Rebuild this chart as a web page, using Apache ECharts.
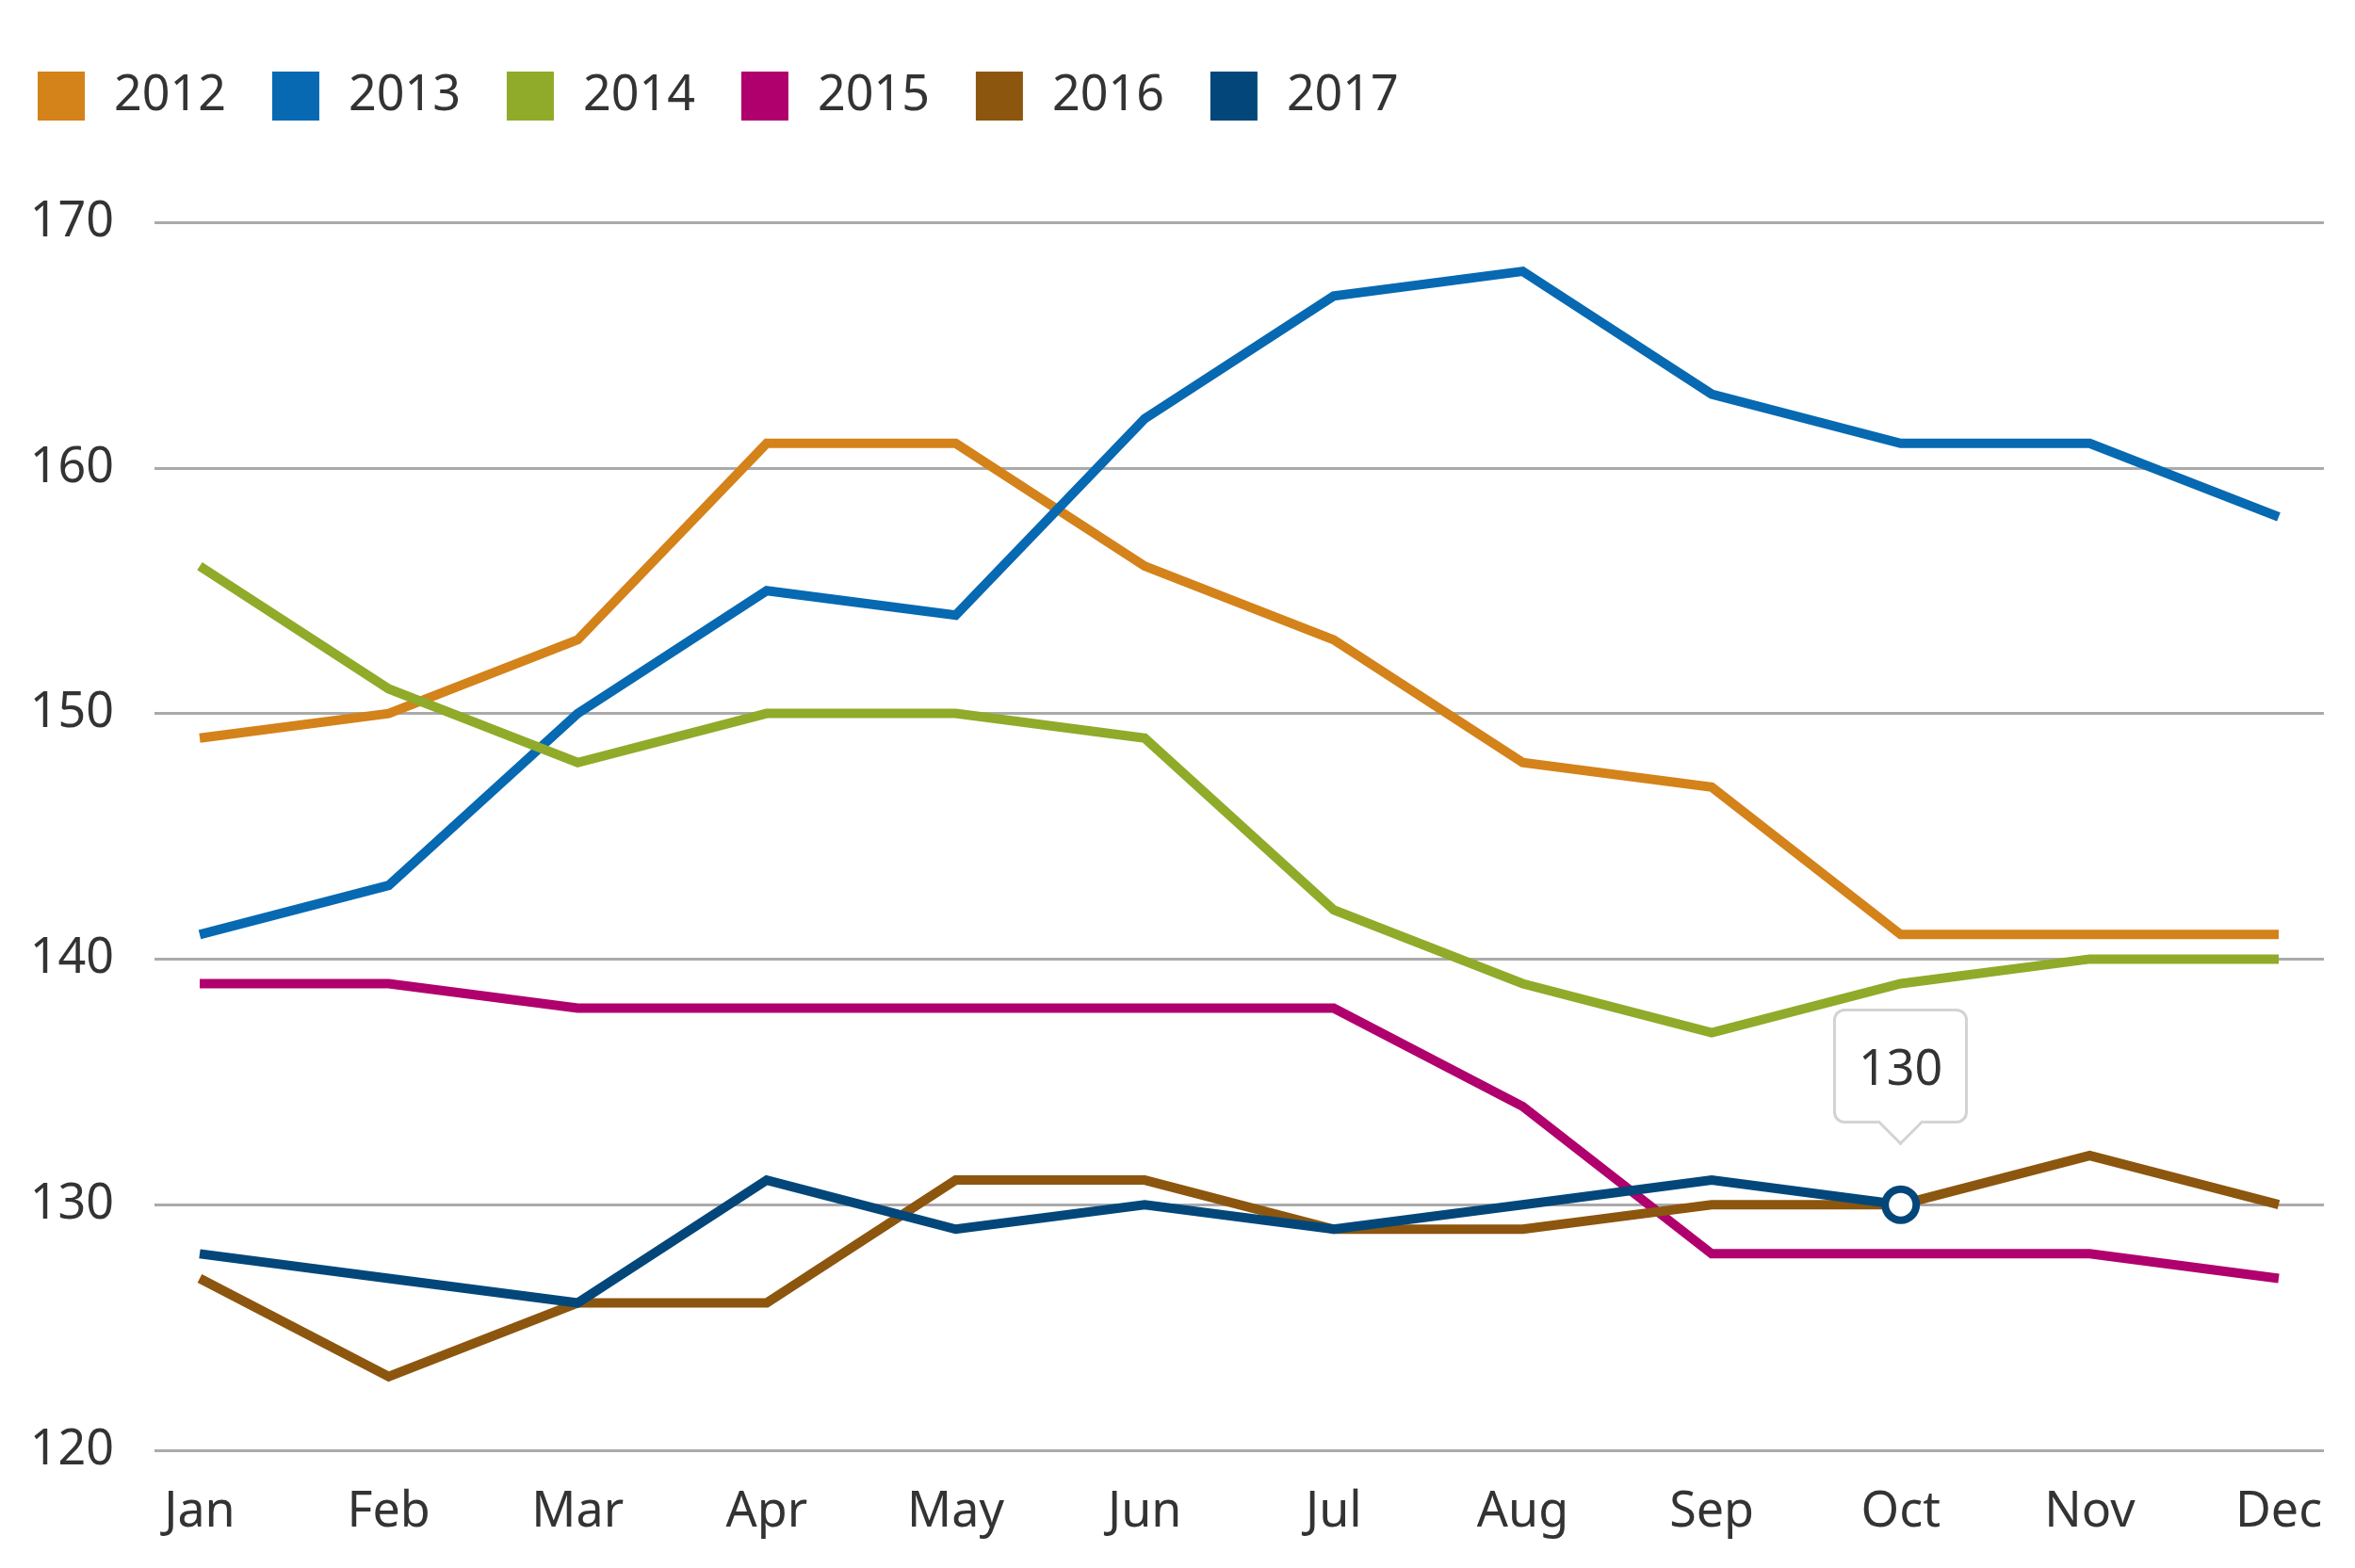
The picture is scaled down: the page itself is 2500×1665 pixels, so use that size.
<!DOCTYPE html>
<html>
<head>
<meta charset="utf-8">
<script src="https://cdn.jsdelivr.net/npm/echarts@6/dist/echarts.min.js"></script>
<style>
html,body{margin:0;padding:0;background:#fff;}
#chart{width:2500px;height:1665px;}
</style>
</head>
<body>
<div id="chart"></div>
<script>
const months = ['Jan','Feb','Mar','Apr','May','Jun','Jul','Aug','Sep','Oct','Nov','Dec'];
const yearNames = ['2012','2013','2014','2015','2016','2017'];
const v2012 = [149,150,153,161,161,156,153,148,147,141,141,141];
const v2013 = [141,143,150,155,154,162,167,168,163,161,161,158];
const v2014 = [156,151,148,150,150,149,142,139,137,139,140,140];
const v2015 = [139,139,138,138,138,138,138,134,128,128,128,127];
const v2016 = [127,123,126,126,131,131,129,129,130,130,132,130];
const v2017 = [128,127,126,131,129,130,129,130,131,130,null,null];
const yTicks = [120,130,140,150,160,170];
const colors = ['#D4821A','#0669B2','#8FAB29','#B0006D','#8C560F','#03477A'];
const highlightIndex = 9; // Oct point of 2017 shown with tooltip

const allValues = [v2012,v2013,v2014,v2015,v2016,v2017];
const FONT = '"Noto Sans", sans-serif';

const chart = echarts.init(document.getElementById('chart'));

const series = allValues.map((vals, i) => ({
  name: yearNames[i],
  type: 'line',
  xAxisIndex: 1,
  yAxisIndex: 1,
  symbol: 'none',
  lineStyle: { width: 10, color: colors[i], cap: 'butt', join: 'miter' },
  itemStyle: { color: colors[i] },
  emphasis: { disabled: true },
  animation: false,
  z: 2 + i,
  data: vals.map((v, j) => {
    if (i === 5 && j === highlightIndex) {
      return {
        value: v,
        symbol: 'circle',
        symbolSize: 33,
        itemStyle: { color: '#ffffff', borderColor: colors[i], borderWidth: 8 }
      };
    }
    return v;
  })
}));

const arrowHtml = '<div style="position:absolute;left:50%;bottom:-19px;width:35px;height:35px;margin-left:-17.5px;' +
  'background:#fff;border-right:3px solid #d3d3d3;border-bottom:3px solid #d3d3d3;box-sizing:border-box;' +
  'transform:rotate(45deg);"></div>';

chart.setOption({
  animation: false,
  color: colors,
  textStyle: { fontFamily: FONT },
  legend: {
    top: 71,
    left: 35,
    icon: 'rect',
    itemWidth: 50,
    itemHeight: 52,
    itemGap: 49,
    selectedMode: false,
    data: yearNames,
    textStyle: { fontSize: 52, color: '#333', fontFamily: FONT, padding: [0,0,0,26], width: 120 }
  },
  tooltip: {
    trigger: 'item',
    alwaysShowContent: true,
    transitionDuration: 0,
    backgroundColor: '#ffffff',
    borderColor: '#d3d3d3',
    borderWidth: 3,
    padding: [32, 24],
    textStyle: { fontSize: 52, lineHeight: 52, color: '#333', fontFamily: FONT },
    extraCssText: 'border-radius:12px;box-shadow:none;',
    position: function (point, params, dom, rect, size) {
      return [point[0] - size.contentSize[0] / 2, point[1] - 208];
    },
    formatter: p => '<span>' + String(p.value) + '</span>' + arrowHtml
  },
  grid: [
    { left: 164, right: 33, top: 236, bottom: 125 },
    { left: 212, right: 81, top: 236, bottom: 125 }
  ],
  xAxis: [
    { type: 'category', gridIndex: 0, data: months, show: false },
    {
      type: 'category', gridIndex: 1, data: months, boundaryGap: false,
      axisLine: { show: false }, axisTick: { show: false },
      axisLabel: { fontSize: 52, color: '#333', margin: 40, fontFamily: FONT },
      splitLine: { show: false }
    }
  ],
  yAxis: [
    {
      type: 'value', gridIndex: 0, min: yTicks[0], max: yTicks[yTicks.length-1], interval: 10,
      axisLine: { show: false }, axisTick: { show: false },
      axisLabel: { fontSize: 52, color: '#333', margin: 43, fontFamily: FONT },
      splitLine: { lineStyle: { color: '#aaaaaa', width: 3 } }
    },
    {
      type: 'value', gridIndex: 1, min: yTicks[0], max: yTicks[yTicks.length-1], interval: 10,
      show: false, splitLine: { show: false }
    }
  ],
  series: series
});

setTimeout(() => {
  chart.dispatchAction({ type: 'showTip', seriesIndex: 5, dataIndex: highlightIndex });
}, 50);
</script>
</body>
</html>
